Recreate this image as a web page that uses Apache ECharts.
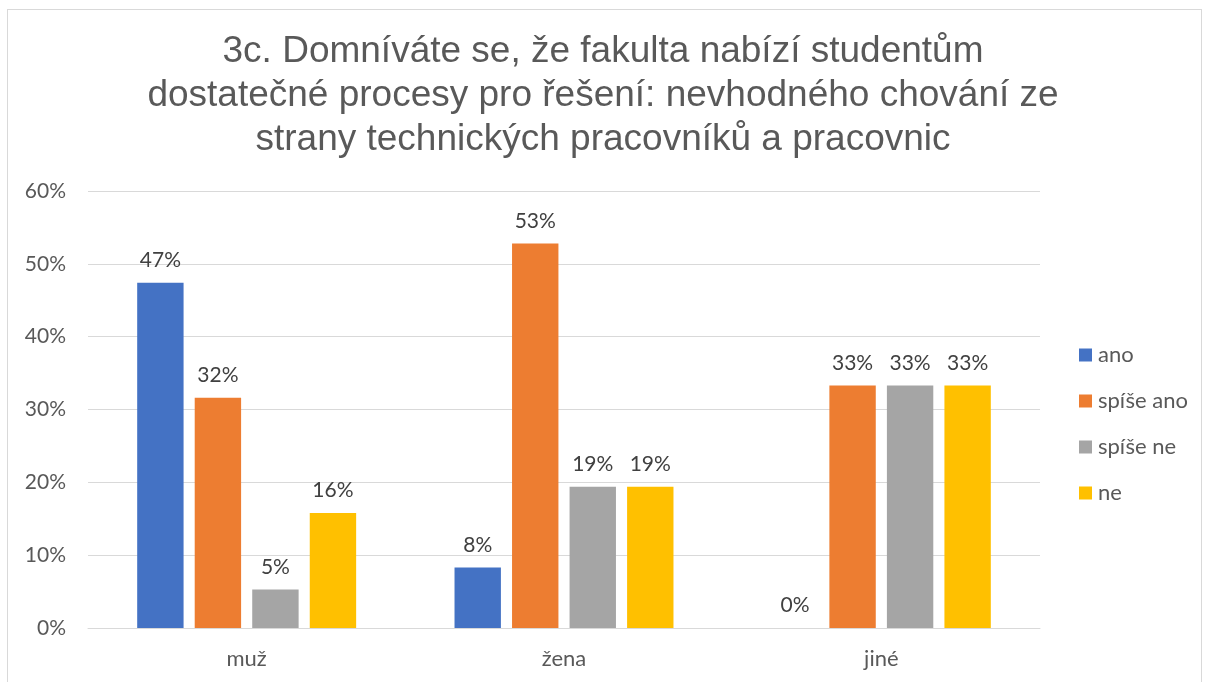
<!doctype html>
<html>
    <head>
        <meta charset="utf-8">
        <style>
            html, body { margin: 0; padding: 0; background: #fff; }
            #frame { position: absolute; left: 7px; top: 9px; width: 1195px; height: 690px; border: 1px solid #d9d9d9; box-sizing: border-box; }
            #main { position: absolute; left: 0; top: 0; width: 1206px; height: 682px; }
        </style>
    </head>
    <body>
        <div id="frame"></div>
        <div id="main"></div>
        <script src="https://cdn.jsdelivr.net/npm/echarts@6/dist/echarts.min.js"></script>
        <script>
            var titleText = '3c. Domníváte se, že fakulta nabízí studentům\ndostatečné procesy pro řešení: nevhodného chování ze\nstrany technických pracovníků a pracovnic';
            var categories = ['muž', 'žena', 'jiné'];
            var seriesNames = ['ano', 'spíše ano', 'spíše ne', 'ne'];
            var colors = ['#4472c4', '#ed7d31', '#a5a5a5', '#ffc000'];
            var ano = [47.4, 8.3, 0];
            var spiseAno = [31.6, 52.8, 33.3];
            var spiseNe = [5.3, 19.4, 33.3];
            var ne = [15.8, 19.4, 33.3];
            var yTicks = [0, 10, 20, 30, 40, 50, 60];

            var values = [ano, spiseAno, spiseNe, ne];
            var labelFont = 'Lato, "Open Sans", sans-serif';

            var chart = echarts.init(document.getElementById('main'));

            var series = seriesNames.map(function (name, i) {
                return {
                    name: name,
                    type: 'bar',
                    data: values[i],
                    barGap: '24%',
                    barCategoryGap: '31%',
                    itemStyle: { color: colors[i] },
                    label: {
                        show: true,
                        position: 'top',
                        distance: 12,
                        color: '#404040',
                        fontSize: 21,
                        fontFamily: labelFont,
                        formatter: function (p) { return Math.round(p.value) + '%'; }
                    }
                };
            });

            chart.setOption({
                animation: false,
                color: colors,
                title: {
                    text: titleText,
                    left: 'center',
                    top: 25,
                    textStyle: {
                        fontFamily: '"Liberation Sans", Arial, sans-serif',
                        fontWeight: 'normal',
                        fontSize: 37,
                        lineHeight: 44,
                        color: '#595959'
                    }
                },
                legend: {
                    orient: 'vertical',
                    left: 1079,
                    top: 344,
                    padding: 0,
                    itemWidth: 13,
                    itemHeight: 13,
                    itemGap: 24,
                    icon: 'rect',
                    data: seriesNames,
                    textStyle: {
                        fontSize: 22,
                        lineHeight: 22,
                        fontFamily: labelFont,
                        color: '#595959',
                        padding: [0, 0, 0, 1]
                    }
                },
                grid: {
                    left: 88,
                    right: 166,
                    top: 191,
                    bottom: 54
                },
                xAxis: {
                    type: 'category',
                    data: categories,
                    axisTick: { show: false },
                    axisLine: { lineStyle: { color: '#d9d9d9', width: 1 } },
                    axisLabel: {
                        margin: 20,
                        fontSize: 22,
                        fontFamily: labelFont,
                        color: '#595959'
                    }
                },
                yAxis: {
                    type: 'value',
                    min: yTicks[0],
                    max: yTicks[yTicks.length - 1],
                    interval: 10,
                    axisLine: { show: false },
                    axisTick: { show: false },
                    splitLine: { lineStyle: { color: '#d9d9d9', width: 1 } },
                    axisLabel: {
                        margin: 22,
                        fontSize: 21,
                        fontFamily: labelFont,
                        color: '#595959',
                        formatter: '{value}%'
                    }
                },
                series: series
            });

            window.addEventListener('resize', function () {
                chart.resize();
            });
        </script>
    </body>
</html>
